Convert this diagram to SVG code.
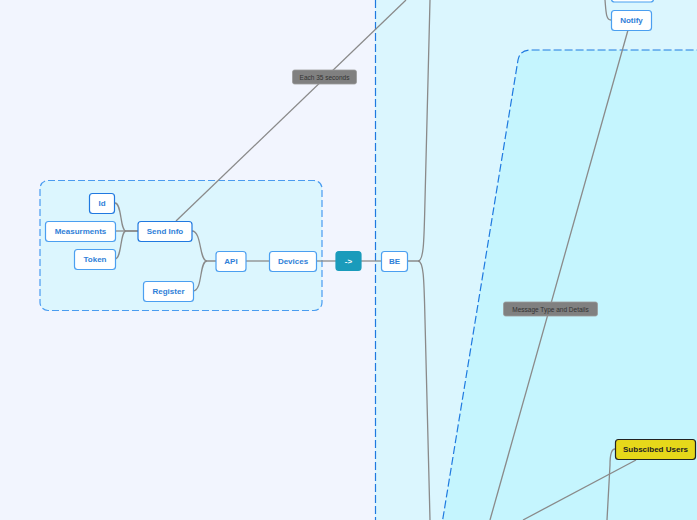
<svg xmlns="http://www.w3.org/2000/svg" width="697" height="520" viewBox="0 0 697 520">
<style>
.n rect{fill:#fff;stroke:#4b9ff0;stroke-width:1.2}
.n text{font-family:"Liberation Sans",Arial,sans-serif;font-size:8px;font-weight:bold;fill:#2f80d8;text-anchor:middle}
.c{fill:none;stroke:#8a8a8a;stroke-width:1.3}
.lbl rect{fill:#808080;stroke:#9a9a9a;stroke-width:0.8}
.lbl text{font-family:"Liberation Sans",Arial,sans-serif;font-size:6.5px;fill:#333;text-anchor:middle}
.b{stroke:#1f7ae0;stroke-width:1.2;stroke-dasharray:8 3}
</style>
<rect width="697" height="520" fill="#f2f5fe"/>
<g id="regions">
<rect x="375" y="-10" width="340" height="540" fill="#dbf6fe"/>
<line class="b" x1="375.5" y1="0" x2="375.5" y2="520"/>
<path class="b" d="M441 530 L518 60 Q520 50 530 50 L710 50 L710 530 Z" fill="#c5f5fe"/>
<rect class="b" x="40" y="180.5" width="282" height="130" rx="8" fill="#dcf6fe" style="stroke:#4a9cf0;stroke-dasharray:7 3"/>
</g>
<g id="connectors">
<path class="c" d="M115 203 C122 203 120 231 126 231 L138 231"/>
<path class="c" d="M115 231 L138 231"/>
<path class="c" d="M115 259 C122 259 120 231 126 231"/>
<path class="c" d="M192 231 C202 231 199 261 207 261 L216 261"/>
<path class="c" d="M193 291 C203 291 199 261 207 261"/>
<path class="c" d="M246 261 L269 261"/>
<path class="c" d="M316 261 L336 261"/>
<path class="c" d="M361 261 L381 261"/>
<path class="c" d="M407 261 L418 261 C424 261 424 240 425 200 L430 0"/>
<path class="c" d="M418 261 C424 261 424 282 425 320 L430 520"/>
<path class="c" d="M176 221 L406 0"/>
<path class="c" d="M628 30 L490 520"/>
<path class="c" d="M636 460 L523 520"/>
<path class="c" d="M615 449 C611 449 610 455 610 465 L607 520"/>
<path class="c" d="M605 0 C606 12 606 20 611 20"/>
</g>
<g id="n-top" class="n"><rect x="611.5" y="-18" width="42" height="20" rx="3"/></g>
<g id="n-notify" class="n"><rect x="611.5" y="10.5" width="40" height="20" rx="3"/><text x="631.5" y="23">Notify</text></g>
<g id="n-id" class="n"><rect x="89.5" y="193.5" width="25" height="20" rx="3" style="stroke:#2079e0"/><text x="102" y="206">Id</text></g>
<g id="n-measurments" class="n"><rect x="45.5" y="221.5" width="70" height="20" rx="3"/><text x="80.5" y="234">Measurments</text></g>
<g id="n-token" class="n"><rect x="74.5" y="249.5" width="41" height="20" rx="3"/><text x="95" y="262">Token</text></g>
<g id="n-sendinfo" class="n"><rect x="138" y="221.5" width="54" height="20" rx="3" style="stroke:#2079e0"/><text x="165" y="234">Send Info</text></g>
<g id="n-register" class="n"><rect x="143.5" y="281.5" width="50" height="20" rx="3"/><text x="168.5" y="294">Register</text></g>
<g id="n-api" class="n"><rect x="216" y="251.5" width="30" height="20" rx="3"/><text x="231" y="264">API</text></g>
<g id="n-devices" class="n"><rect x="269.5" y="251.5" width="47" height="20" rx="3"/><text x="293" y="264">Devices</text></g>
<g id="n-arrow" class="n"><rect x="336" y="251.5" width="25" height="19" rx="3" style="fill:#1a9bbb;stroke:#1a9bbb"/><text x="348.5" y="264" style="fill:#fff">-&gt;</text></g>
<g id="n-be" class="n"><rect x="381.5" y="251.5" width="26" height="20" rx="3"/><text x="394.5" y="264">BE</text></g>
<g id="n-subscibed" class="n"><rect x="615.5" y="439.5" width="80" height="20" rx="3" style="fill:#e6d81a;stroke:#222"/><text x="655.5" y="452" style="fill:#222">Subscibed Users</text></g>
<g id="l-each" class="lbl"><rect x="292.5" y="70" width="64" height="14" rx="2"/><text x="324.5" y="79.5">Each 35 seconds</text></g>
<g id="l-msg" class="lbl"><rect x="503.5" y="302" width="94" height="14" rx="2"/><text x="550.5" y="311.5">Message Type and Details</text></g>
</svg>
